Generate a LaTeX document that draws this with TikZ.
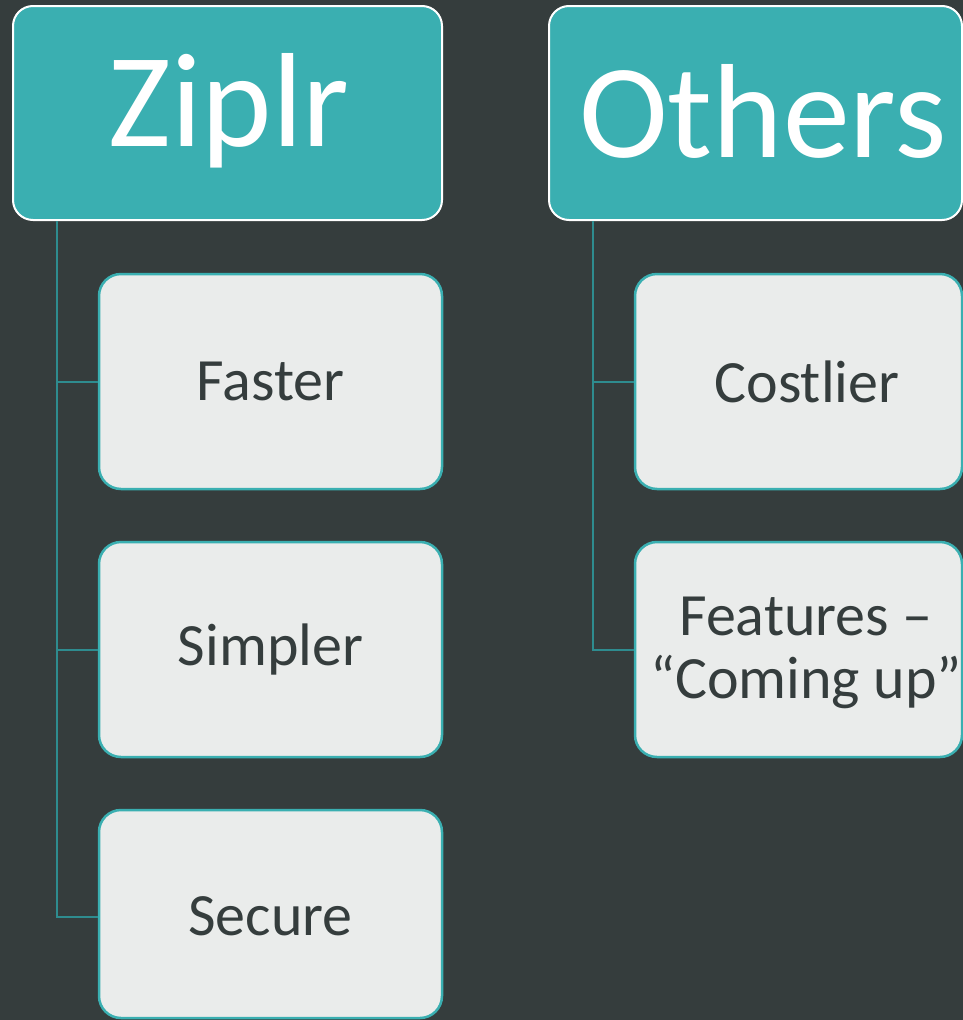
\documentclass[tikz,border=0pt]{standalone}
\usepackage{fontspec}
\setmainfont{Carlito}
\definecolor{bgc}{RGB}{53,61,61}
\definecolor{tealc}{RGB}{58,175,177}
\definecolor{linec}{RGB}{46,140,143}
\definecolor{boxc}{RGB}{234,236,235}
\definecolor{txtc}{RGB}{53,61,61}
\tikzset{
  headbox/.style={draw=white,line width=2pt,fill=tealc,rounded corners=20pt,minimum height=214pt,inner sep=0pt},
  childbox/.style={draw=tealc,line width=2.5pt,fill=boxc,rounded corners=22pt,inner sep=0pt},
  headtext/.style={text=white,font=\fontsize{134}{160}\selectfont,inner sep=0pt},
  childtext/.style={text=txtc,font=\fontsize{60}{63}\selectfont,align=center,inner sep=0pt},
  conn/.style={draw=linec,line width=2pt}
}
\begin{document}
\begin{tikzpicture}[x=1pt,y=-1pt]
\useasboundingbox (0,0) rectangle (963,1020);
\fill[bgc] (0,0) rectangle (963,1020);
\clip (0,0) rectangle (963,1020);
\coordinate (zt) at (57,221);
\coordinate (ot) at (593,221);
% header boxes
\node[headbox,minimum width=429pt] (ziplr) at (227.5,113) {};
\node[headbox,minimum width=413pt] (others) at (755.5,113) {};
\node[headtext] (ziplrtxt) at (229,111) {Ziplr};
\node[headtext] (otherstxt) at (763,111) {Others};
% child boxes
\node[childbox,minimum width=343pt,minimum height=215pt] (faster) at (270.5,381.5) {};
\node[childbox,minimum width=343pt,minimum height=215pt] (simpler) at (270.5,649.5) {};
\node[childbox,minimum width=343pt,minimum height=208pt] (secure) at (270.5,914) {};
\node[childbox,minimum width=327pt,minimum height=215pt] (costlier) at (798.5,381.5) {};
\node[childbox,minimum width=327pt,minimum height=215pt] (features) at (798.5,649.5) {};
% texts
\node[childtext] (fastertxt) at (270.5,381.5) {Faster};
\node[childtext] (simplertxt) at (270.5,649.5) {Simpler};
\node[childtext] (securetxt) at (270.5,916.5) {Secure};
\node[childtext] (costliertxt) at (807,381.5) {Costlier};
\node[childtext] (featurestxt) at (806,653) {Features –\\“Coming up”};
% connectors
\draw[conn] (zt) |- (faster.west);
\draw[conn] (zt) |- (simpler.west);
\draw[conn] (zt) |- (secure.west |- securetxt);
\draw[conn] (ot) |- (costlier.west);
\draw[conn] (ot) |- (features.west);
\end{tikzpicture}
\end{document}
